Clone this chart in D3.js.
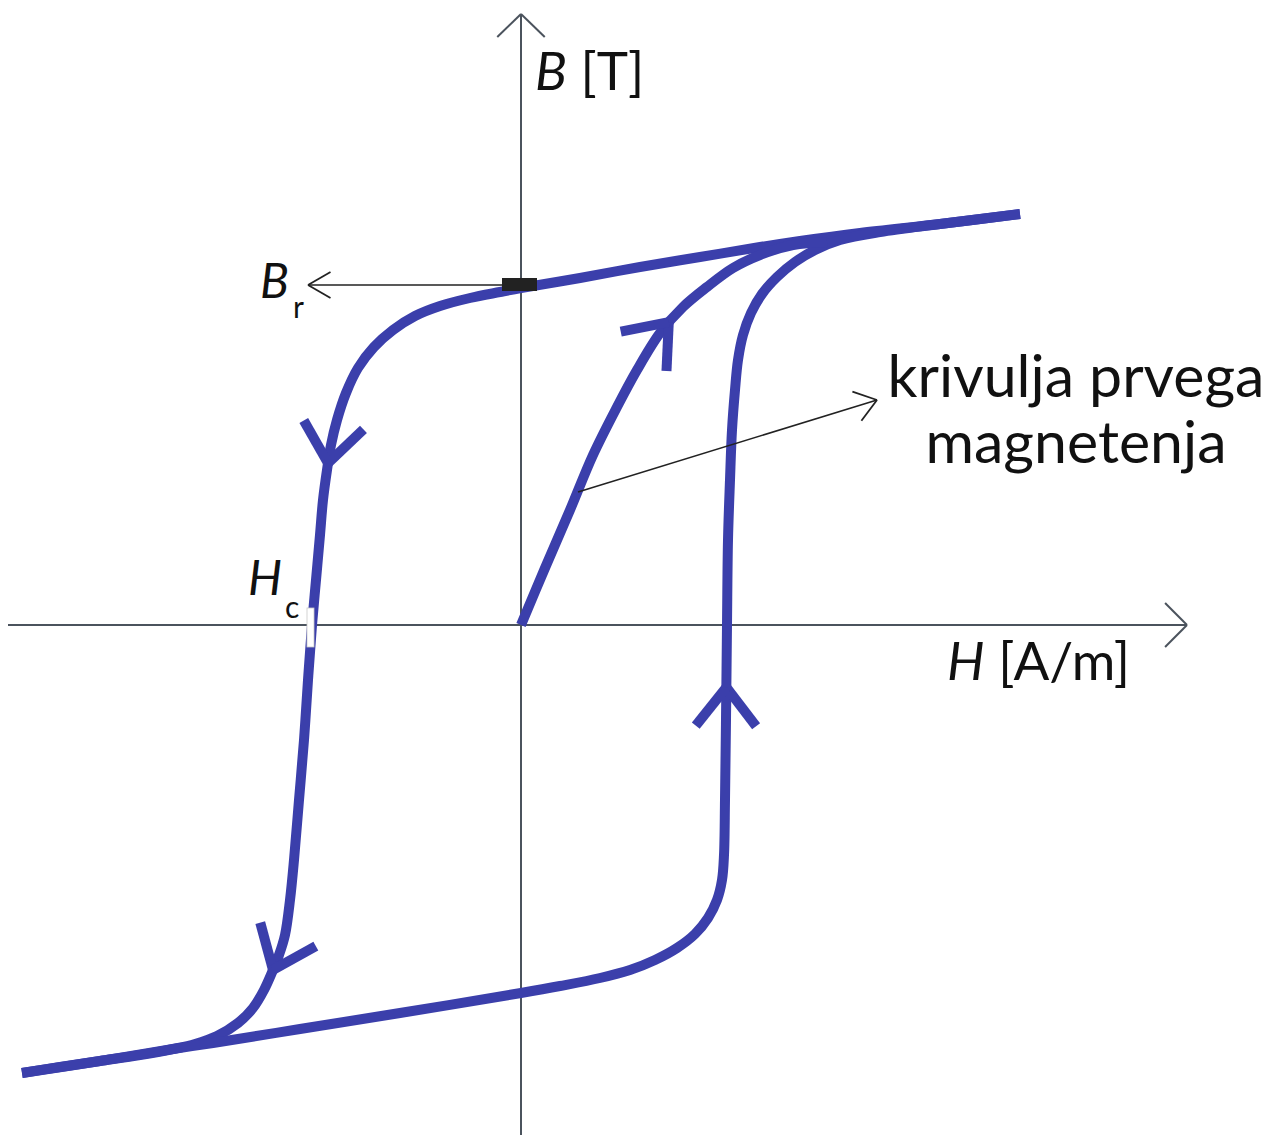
<!DOCTYPE html>
<html>
<head>
<meta charset="utf-8">
<script src="https://cdn.jsdelivr.net/npm/d3@7"></script>
<style>
  html, body { margin: 0; padding: 0; background: #fff; }
  svg { display: block; }
  text { font-family: Lato, "DejaVu Sans", sans-serif; fill: #111; }
</style>
</head>
<body>
<div id="graph"></div>
<script>
// hysteresis loop, H and B in arbitrary units

// upper branch, travelled from +saturation down to -saturation
var descendingBranch = [
  [4.99, 4.11], [4.19, 4.01], [3.39, 3.92], [2.79, 3.84], [2.39, 3.78],
  [1.79, 3.68], [1.19, 3.58], [0.59, 3.47], [0, 3.37], [-0.21, 3.33],
  [-0.51, 3.27], [-0.81, 3.19], [-1.06, 3.09], [-1.28, 2.95], [-1.47, 2.78],
  [-1.63, 2.57], [-1.75, 2.32], [-1.84, 2.05], [-1.90, 1.80], [-1.94, 1.55],
  [-1.98, 1.25], [-2.01, 0.90], [-2.05, 0.45], [-2.09, 0], [-2.13, -0.55],
  [-2.17, -1.15], [-2.22, -1.75], [-2.27, -2.35], [-2.31, -2.75], [-2.36, -3.10],
  [-2.42, -3.30], [-2.48, -3.45], [-2.57, -3.65], [-2.68, -3.83], [-2.83, -3.98],
  [-3.04, -4.11], [-3.26, -4.19], [-3.48, -4.24], [-3.81, -4.30], [-4.21, -4.36],
  [-4.61, -4.42], [-4.99, -4.48]
];

// lower branch, travelled from -saturation back up to +saturation
var ascendingBranch = [
  [-4.99, -4.48], [-4.21, -4.36], [-3.48, -4.24], [-3.08, -4.18], [-2.21, -4.04],
  [-1.21, -3.88], [0, -3.68], [0.39, -3.61], [0.79, -3.53], [1.09, -3.45],
  [1.34, -3.35], [1.56, -3.23], [1.74, -3.09], [1.87, -2.93], [1.96, -2.75],
  [2.01, -2.55], [2.03, -2.30], [2.04, -1.75], [2.05, -0.95], [2.06, 0],
  [2.07, 0.85], [2.09, 1.45], [2.11, 1.95], [2.14, 2.35], [2.17, 2.65],
  [2.22, 2.90], [2.30, 3.12], [2.41, 3.31], [2.56, 3.48], [2.74, 3.63],
  [2.94, 3.75], [3.19, 3.85], [3.59, 3.93], [4.19, 4.01], [4.99, 4.11]
];

// krivulja prvega magnetenja (initial magnetisation curve)
var initialCurve = [
  [0, 0], [0.24, 0.57], [0.49, 1.15], [0.72, 1.70], [0.96, 2.18],
  [1.16, 2.55], [1.39, 2.92], [1.62, 3.18], [1.86, 3.38], [2.12, 3.57],
  [2.39, 3.70], [2.72, 3.80], [3.06, 3.83]
];

var remanence = 3.37;     // B_r
var coercivity = -2.10;   // H_c

// direction arrows sit on these points of the curves
var flowArrows = [
  { branch: "descending", H: -1.95, B: 1.62 },
  { branch: "initial", H: 1.49, B: 3.02 },
  { branch: "ascending", H: 2.06, B: -0.62 },
  { branch: "descending", H: -2.48, B: -3.45 }
];

// pointer from the initial curve to its caption
var captionPointer = [[0.57, 1.33], [3.56, 2.25]];
var captionLines = ["krivulja prvega", "magnetenja"];

(function(){
  "use strict";

  var width = 1263;
  var height = 1135;
  var blue = "#3b3fab";
  var axisColor = "#4b535d";

  var x = d3.scaleLinear().domain([-5, 7]).range([21, 1221]);
  var y = d3.scaleLinear().domain([-5, 6]).range([1125, 25]);

  var svg = d3.select("#graph").append("svg")
      .attr("width", width)
      .attr("height", height);

  // open "V" arrow head, tip at (tx,ty), pointing along angle
  function chevron(g, tx, ty, angle, len, half, color, sw) {
    [-1, 1].forEach(function(s){
      var a = angle + Math.PI + s * half;
      g.append("line")
        .attr("x1", tx).attr("y1", ty)
        .attr("x2", tx + len * Math.cos(a))
        .attr("y2", ty + len * Math.sin(a))
        .attr("stroke", color)
        .attr("stroke-width", sw)
        .attr("stroke-linecap", "butt");
    });
  }

  // axes
  var axes = svg.append("g");
  axes.append("line")
    .attr("x1", 8).attr("x2", x(6.66))
    .attr("y1", y(0)).attr("y2", y(0))
    .attr("stroke", axisColor).attr("stroke-width", 2);
  axes.append("line")
    .attr("x1", x(0)).attr("x2", x(0))
    .attr("y1", height).attr("y2", y(6.11))
    .attr("stroke", axisColor).attr("stroke-width", 2);
  chevron(axes, x(6.66), y(0), 0, 31, 45 * Math.PI / 180, axisColor, 2);
  chevron(axes, x(0), y(6.11), -Math.PI / 2, 33, 46 * Math.PI / 180, axisColor, 2);

  // axis titles
  var bt = svg.append("text").attr("x", 535).attr("y", 90).attr("font-size", 53);
  bt.append("tspan").attr("font-style", "italic").text("B");
  bt.append("tspan").text(" [T]");
  var ht = svg.append("text").attr("x", 947).attr("y", 680).attr("font-size", 53);
  ht.append("tspan").attr("font-style", "italic").text("H");
  ht.append("tspan").text(" [A/m]");

  // the loop
  var line = d3.line()
      .x(function(d){ return x(d[0]); })
      .y(function(d){ return y(d[1]); })
      .curve(d3.curveCatmullRom.alpha(0.5));

  var branches = {
    descending: descendingBranch,
    ascending: ascendingBranch,
    initial: initialCurve
  };
  var loop = svg.append("g");
  var nodes = {};
  Object.keys(branches).forEach(function(k){
    nodes[k] = loop.append("path")
      .attr("d", line(branches[k]))
      .attr("fill", "none")
      .attr("stroke", blue)
      .attr("stroke-width", 10)
      .attr("stroke-linecap", "butt")
      .attr("stroke-linejoin", "round")
      .node();
  });

  // arrows on the loop, oriented along the direction of travel
  flowArrows.forEach(function(a){
    var node = nodes[a.branch];
    var L = node.getTotalLength();
    var px = x(a.H), py = y(a.B);
    var best = 0, bd = Infinity;
    for (var l = 0; l <= L; l += 1) {
      var p = node.getPointAtLength(l);
      var d = (p.x - px) * (p.x - px) + (p.y - py) * (p.y - py);
      if (d < bd) { bd = d; best = l; }
    }
    var p0 = node.getPointAtLength(best);
    var p1 = node.getPointAtLength(Math.max(0, best - 6));
    var p2 = node.getPointAtLength(Math.min(L, best + 6));
    var ang = Math.atan2(p2.y - p1.y, p2.x - p1.x);
    chevron(loop, p0.x, p0.y, ang, 49, 38 * Math.PI / 180, blue, 10);
  });

  // B_r : marker on the B axis and pointer to its label
  svg.append("line")
    .attr("x1", x(0) - 18).attr("x2", 308)
    .attr("y1", y(remanence) - 3).attr("y2", y(remanence) - 3)
    .attr("stroke", "#222").attr("stroke-width", 1.6);
  chevron(svg, 308, y(remanence) - 3, Math.PI, 26, 30 * Math.PI / 180, "#222", 1.8);
  svg.append("rect")
    .attr("x", x(0) - 19).attr("y", y(remanence) - 10)
    .attr("width", 35).attr("height", 13)
    .attr("fill", "#222");
  var br = svg.append("text").attr("x", 260).attr("y", 298).attr("font-size", 48);
  br.append("tspan").attr("font-style", "italic").text("B");
  svg.append("text").attr("x", 293).attr("y", 318).attr("font-size", 30).text("r");

  // H_c : gap marker on the H axis
  svg.append("rect")
    .attr("x", x(coercivity) - 4).attr("y", y(0) - 17)
    .attr("width", 7).attr("height", 39)
    .attr("fill", "#fff")
    .attr("stroke", "#c8c8c8").attr("stroke-width", 0.8);
  var hc = svg.append("text").attr("x", 248).attr("y", 595).attr("font-size", 48);
  hc.append("tspan").attr("font-style", "italic").text("H");
  svg.append("text").attr("x", 285).attr("y", 618).attr("font-size", 30).text("c");

  // caption pointer for the initial magnetisation curve
  var c0 = captionPointer[0], c1 = captionPointer[1];
  svg.append("line")
    .attr("x1", x(c0[0])).attr("y1", y(c0[1]))
    .attr("x2", x(c1[0])).attr("y2", y(c1[1]))
    .attr("stroke", "#222").attr("stroke-width", 1.6);
  chevron(svg, x(c1[0]), y(c1[1]),
    Math.atan2(y(c1[1]) - y(c0[1]), x(c1[0]) - x(c0[0])),
    26, 36 * Math.PI / 180, "#222", 1.8);

  svg.selectAll("text.caption")
    .data(captionLines)
    .enter()
    .append("text")
    .attr("class", "caption")
    .attr("x", 1076)
    .attr("y", function(d, i){ return 397 + i * 66; })
    .attr("text-anchor", "middle")
    .attr("font-size", 59)
    .text(function(d){ return d; });
})();
</script>
</body>
</html>
